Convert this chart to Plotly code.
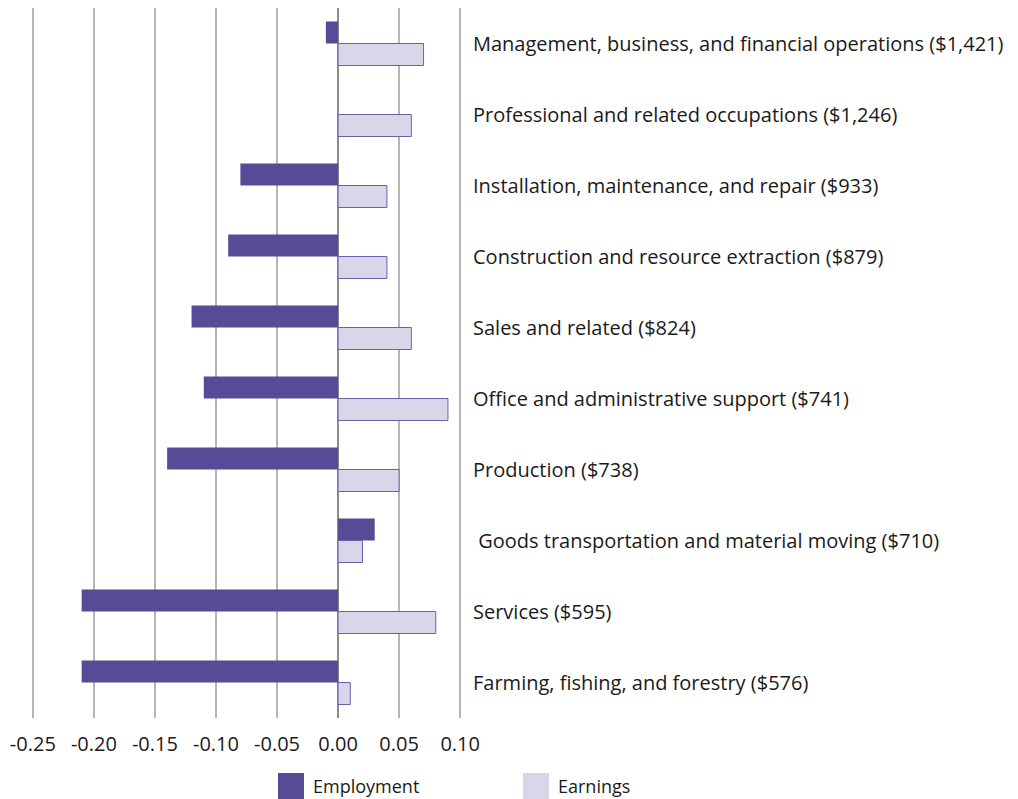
import plotly.graph_objects as go

# occupation groups (median weekly earnings in labels), top to bottom
occupations = [
    "Management, business, and financial operations ($1,421)",
    "Professional and related occupations ($1,246)",
    "Installation, maintenance, and repair ($933)",
    "Construction and resource extraction ($879)",
    "Sales and related ($824)",
    "Office and administrative support ($741)",
    "Production ($738)",
    "\u00a0Goods transportation and material moving ($710)",
    "Services ($595)",
    "Farming, fishing, and forestry ($576)",
]
employment = [-0.01, 0.0, -0.08, -0.09, -0.12, -0.11, -0.14, 0.03, -0.21, -0.21]
earnings = [0.07, 0.06, 0.04, 0.04, 0.06, 0.09, 0.05, 0.02, 0.08, 0.01]

x_ticks = [-0.25, -0.20, -0.15, -0.10, -0.05, 0.00, 0.05, 0.10]
x_labels = ["-0.25", "-0.20", "-0.15", "-0.10", "-0.05", "0.00", "0.05", "0.10"]

EMP_COLOR = "#574a96"
EARN_COLOR = "#d9d6ea"
FONT = "Open Sans"

# page has an 8px body margin, so the figure is sized to fit inside it
W, H = 1010, 791
L, R, T, B = 23, 556, 0, 81
PW, PH = W - L - R, H - T - B

fig = go.Figure()
fig.add_trace(go.Bar(y=occupations, x=employment, orientation="h", name="Employment",
                     marker=dict(color=EMP_COLOR, line=dict(width=0)), showlegend=False))
fig.add_trace(go.Bar(y=occupations, x=earnings, orientation="h", name="Earnings",
                     marker=dict(color=EARN_COLOR, line=dict(color="#6d5fb0", width=1)),
                     showlegend=False))

fig.update_layout(
    width=W, height=H,
    margin=dict(l=L, r=R, t=T, b=B),
    barmode="group", bargap=0.38, bargroupgap=0,
    plot_bgcolor="white", paper_bgcolor="white",
    font=dict(family=FONT, size=20, color="#1a1a1a"),
)
fig.update_xaxes(
    range=[-0.2515, 0.1015], tickvals=x_ticks, ticktext=x_labels,
    showgrid=True, gridcolor="#b5b5b5", gridwidth=1.5,
    zeroline=True, zerolinecolor="#8c8c8c", zerolinewidth=1.5,
    showline=False, ticks="", ticklabelstandoff=12, automargin=False,
    tickfont=dict(size=20),
)
fig.update_yaxes(
    autorange="reversed", side="right", showgrid=False, showline=False,
    ticks="", ticklabelstandoff=10, automargin=False, tickfont=dict(size=20),
)

# legend drawn as square swatches below the axis (page pixels -> paper coords)
def px_x(p):
    return (p - 8 - L) / PW

def px_y(p):
    return 1 - (p - 8 - T) / PH

legend_items = [("Employment", EMP_COLOR, 278), ("Earnings", EARN_COLOR, 523)]
for label, color, px0 in legend_items:
    fig.add_shape(type="rect", xref="paper", yref="paper",
                  x0=px_x(px0), x1=px_x(px0 + 26), y0=px_y(773), y1=px_y(799),
                  fillcolor=color, line=dict(width=0))
    fig.add_annotation(xref="paper", yref="paper", x=px_x(px0 + 33), y=px_y(786),
                       text=label, showarrow=False, xanchor="left", yanchor="middle",
                       font=dict(size=18))

fig.write_html("out.html")
